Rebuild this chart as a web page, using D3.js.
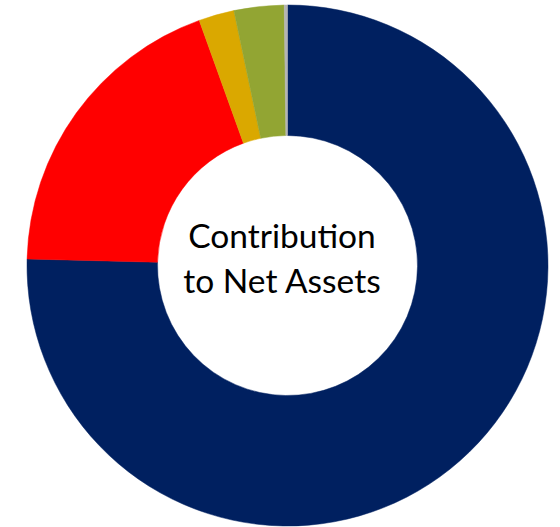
<!DOCTYPE html>
<html>
<head>
<meta charset="utf-8">
<script src="https://cdn.jsdelivr.net/npm/d3@7"></script>
<style>
  html, body { margin: 0; padding: 0; background: #fff; }
  svg { display: block; }
</style>
</head>
<body>
<script>
  // slices, clockwise from 12 o'clock (share of net assets, %)
  var categories = ['Navy', 'Red', 'Gold', 'Green', 'Grey'];
  var values = [75.4, 19.1, 2.2, 3.1, 0.2];
  var colors = ['#002060', '#FF0000', '#DAA800', '#92A533', '#B4B4B4'];
  var centerLines = ['Contribution', 'to Net Assets'];

  var width = 560, height = 527;
  var cx = 287.5, cy = 265.5;
  var outerR = 260.5, innerR = 130;

  var svg = d3.select('body').append('svg')
      .attr('width', width)
      .attr('height', height);

  var g = svg.append('g')
      .attr('transform', 'translate(' + cx + ',' + cy + ')');

  // keep input order so navy starts at the top
  var pie = d3.pie()
      .sort(null)
      .value(d => d.value);

  var arc = d3.arc()
      .innerRadius(innerR)
      .outerRadius(outerR);

  var data = categories.map((c, i) => ({name: c, value: values[i], color: colors[i]}));

  g.selectAll('path')
    .data(pie(data))
    .enter().append('path')
      .attr('d', arc)
      .attr('fill', d => d.data.color)
      .attr('stroke', d => d.data.color)
      .attr('stroke-width', 0.5);

  // label in the hole
  var label = svg.append('text')
      .attr('x', 282)
      .attr('text-anchor', 'middle')
      .style('font-family', 'Lato, "Open Sans", sans-serif')
      .style('font-size', '33.5px')
      .style('fill', '#000');

  label.selectAll('tspan')
    .data(centerLines)
    .enter().append('tspan')
      .attr('x', 282)
      .attr('y', (d, i) => 248 + i * 45)
      .text(d => d);
</script>
</body>
</html>
